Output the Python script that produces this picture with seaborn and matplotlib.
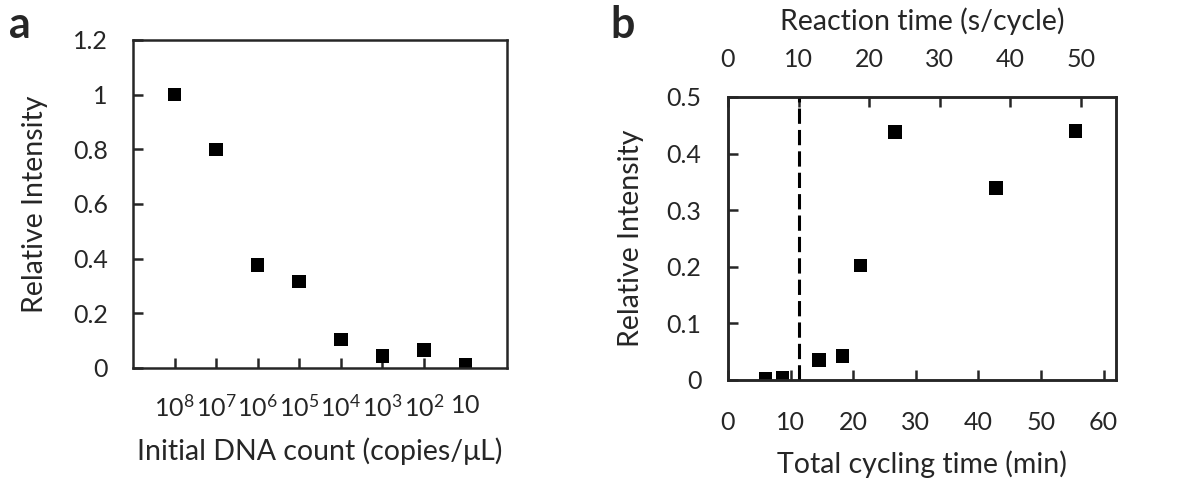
import pandas as pd
import matplotlib.pyplot as plt
import seaborn as sns

# panel a data
dna_labels = ['$10^8$', '$10^7$', '$10^6$', '$10^5$', '$10^4$', '$10^3$', '$10^2$', '$10$']
dna_intensity = [1.0, 0.80, 0.376, 0.316, 0.104, 0.044, 0.066, 0.010]

# panel b data
cycling_time = [6.0, 8.7, 14.5, 18.3, 21.2, 26.7, 42.8, 55.5]
time_intensity = [0.003, 0.004, 0.035, 0.042, 0.202, 0.438, 0.339, 0.440]
cutoff_reaction = 10

sns.set_style("ticks")
plt.rcParams['font.family'] = ['Lato', 'DejaVu Sans']
plt.rcParams['mathtext.fontset'] = 'custom'
plt.rcParams['mathtext.rm'] = 'Lato'
plt.rcParams['mathtext.it'] = 'Lato'
plt.rcParams['mathtext.bf'] = 'Lato:bold'

fig = plt.figure(figsize=(11.87, 4.84), dpi=100)

tick_fs = 18
label_fs = 20.5
spine_lw = 1.8

# ---- panel a
ax1 = fig.add_axes([0.1120, 0.2397, 0.3151, 0.6777])
dfa = pd.DataFrame({'pos': range(1, len(dna_labels) + 1), 'intensity': dna_intensity})
sns.scatterplot(data=dfa, x='pos', y='intensity', marker='s', s=95, color='black',
                edgecolor='none', ax=ax1)
ax1.set_xlim(0, 9)
ax1.set_ylim(0, 1.2)
ax1.set_xticks(dfa['pos'])
ax1.set_xticklabels(dna_labels)
ax1.set_yticks([0, 0.2, 0.4, 0.6, 0.8, 1.0, 1.2])
ax1.set_yticklabels(['0', '0.2', '0.4', '0.6', '0.8', '1', '1.2'])
ax1.tick_params(axis='x', direction='in', length=7, width=spine_lw, pad=19, labelsize=tick_fs)
ax1.tick_params(axis='y', direction='in', length=7, width=spine_lw, pad=18, labelsize=tick_fs)
ax1.set_xlabel('Initial DNA count (copies/μL)', fontsize=label_fs, labelpad=12)
ax1.set_ylabel('Relative Intensity', fontsize=label_fs, labelpad=18)
for sp in ax1.spines.values():
    sp.set_linewidth(spine_lw)
    sp.set_visible(True)

# ---- panel b
ax2 = fig.add_axes([0.6133, 0.2149, 0.3269, 0.5847])
dfb = pd.DataFrame({'time': cycling_time, 'intensity': time_intensity})
sns.scatterplot(data=dfb, x='time', y='intensity', marker='s', s=95, color='black',
                edgecolor='none', ax=ax2)
ax2.set_xlim(0, 62)
ax2.set_ylim(0, 0.5)
ax2.set_xticks([0, 10, 20, 30, 40, 50, 60])
ax2.set_yticks([0, 0.1, 0.2, 0.3, 0.4, 0.5])
ax2.set_yticklabels(['0', '0.1', '0.2', '0.3', '0.4', '0.5'])
ax2.tick_params(axis='x', direction='in', length=7, width=spine_lw, pad=22, labelsize=tick_fs)
ax2.tick_params(axis='y', direction='in', length=7, width=spine_lw, pad=19, labelsize=tick_fs)
ax2.set_xlabel('Total cycling time (min)', fontsize=label_fs, labelpad=12)
ax2.set_ylabel('Relative Intensity', fontsize=label_fs, labelpad=16)
for sp in ax2.spines.values():
    sp.set_linewidth(spine_lw)
    sp.set_visible(True)

top = ax2.twiny()
top.set_xlim(0, 55)
top.set_xticks([0, 10, 20, 30, 40, 50])
top.tick_params(axis='x', direction='in', length=7, width=spine_lw, pad=19, labelsize=tick_fs)
top.set_xlabel('Reaction time (s/cycle)', fontsize=label_fs, labelpad=13)
top.axvline(cutoff_reaction, color='black', lw=2.2, linestyle=(0, (5, 2)))
for sp in top.spines.values():
    sp.set_linewidth(spine_lw)

fig.text(0.008, 0.948, 'a', fontsize=31, fontweight='bold', va='center')
fig.text(0.514, 0.948, 'b', fontsize=31, fontweight='bold', va='center')

fig.savefig('out.png', dpi=100)
